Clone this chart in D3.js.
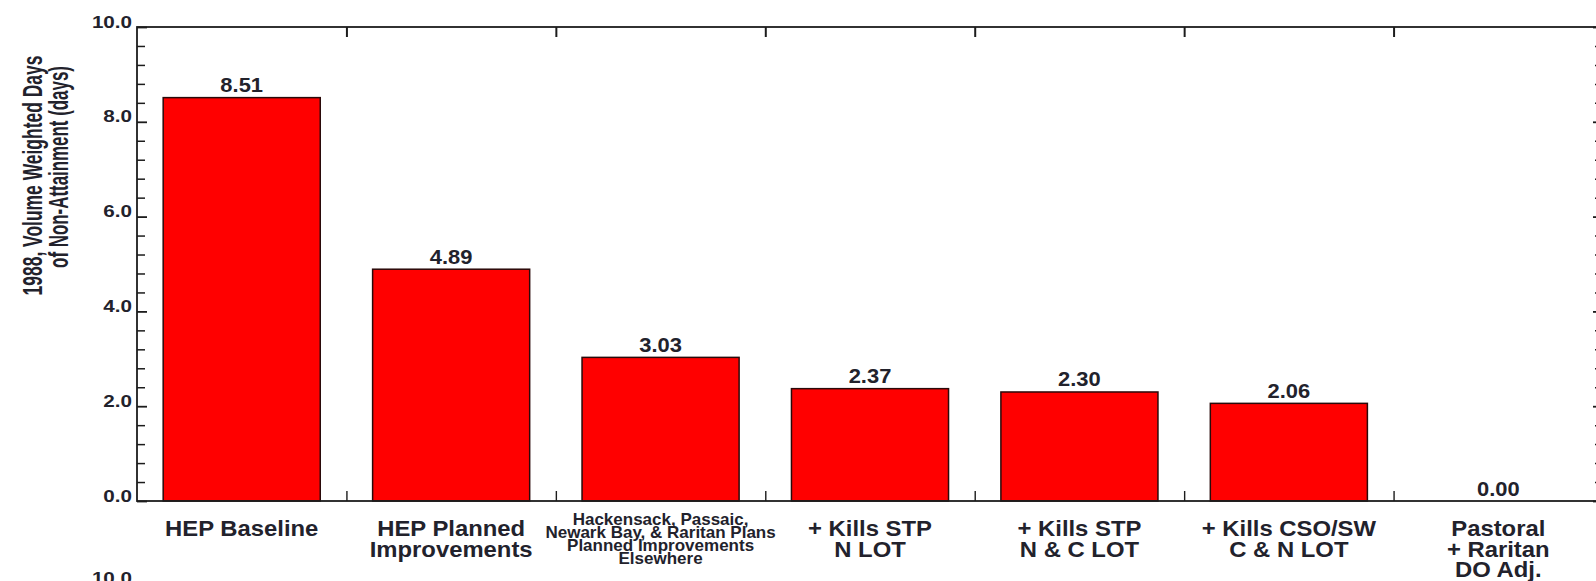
<!DOCTYPE html>
<html>
<head>
<meta charset="utf-8">
<script src="https://cdn.jsdelivr.net/npm/d3@7"></script>
<style>
  html, body { margin: 0; padding: 0; background: #ffffff; }
  svg { display: block; }
  text { font-family: "Liberation Sans", Arial, sans-serif; font-weight: bold; fill: #22222c; }
</style>
</head>
<body>
<svg id="chart" width="1596" height="581"></svg>
<script>
// ---------------- data ----------------
const categoryLines = [
  ["HEP Baseline"],
  ["HEP Planned", "Improvements"],
  ["Hackensack, Passaic,", "Newark Bay, & Raritan Plans", "Planned Improvements", "Elsewhere"],
  ["+ Kills STP", "N LOT"],
  ["+ Kills STP", "N & C LOT"],
  ["+ Kills CSO/SW", "C & N LOT"],
  ["Pastoral", "+ Raritan", "DO Adj."]
];
const smallLabelIndex = [2];
const values = [8.51, 4.89, 3.03, 2.37, 2.30, 2.06, 0.00];
const yMajorTicks = [0, 2, 4, 6, 8, 10];
const yMinorTicks = [0.4, 0.8, 1.2, 1.6, 2.4, 2.8, 3.2, 3.6, 4.4, 4.8, 5.2, 5.6,
                     6.4, 6.8, 7.2, 7.6, 8.4, 8.8, 9.2, 9.6];
const yTitleLines = ["1988, Volume Weighted Days", "of Non-Attainment (days)"];
const nextPanelTick = ["10.0"];

// ---------------- layout ----------------
const svg = d3.select("#chart");
const L = 137, R = 1603, T = 27, B = 501;
const ink = "#1c1c1c";

const x = d3.scaleBand()
  .domain(d3.range(values.length))
  .range([L, R])
  .paddingInner(0.25)
  .paddingOuter(0.125);
const xb = d3.scaleLinear().domain([0, values.length]).range([L, R]);
const y = d3.scaleLinear().domain([0, 10]).range([B, T]);

function scaledText(g, tx, ty, str, size, sx, anchor) {
  return g.append("g")
    .attr("transform", `translate(${tx},${ty}) scale(${sx},1)`)
    .append("text")
    .attr("text-anchor", anchor)
    .style("font-size", size + "px")
    .text(str);
}

// bars
svg.append("g").selectAll("rect")
  .data(values.map((v, i) => ({ v, i })).filter(d => d.v > 0))
  .join("rect")
  .attr("x", d => x(d.i))
  .attr("y", d => y(d.v))
  .attr("width", x.bandwidth())
  .attr("height", d => y(0) - y(d.v))
  .attr("fill", "#ff0000")
  .attr("stroke", "#2a0a0a")
  .attr("stroke-width", 1.5);

// frame
svg.append("rect")
  .attr("x", L).attr("y", T)
  .attr("width", R - L).attr("height", B - T)
  .attr("fill", "none").attr("stroke", ink).attr("stroke-width", 1.8);

function styleAxis(g, w) {
  g.select(".domain").remove();
  g.selectAll("line").attr("stroke", ink).attr("stroke-width", w);
  g.selectAll("text").remove();
}

// y ticks, left (pointing inward)
svg.append("g").attr("transform", `translate(${L},0)`)
  .call(d3.axisRight(y).tickValues(yMajorTicks).tickSize(10).tickFormat(""))
  .call(g => styleAxis(g, 1.8));
svg.append("g").attr("transform", `translate(${L},0)`)
  .call(d3.axisRight(y).tickValues(yMinorTicks).tickSize(8).tickFormat(""))
  .call(g => styleAxis(g, 1.5));
// y ticks, right
svg.append("g").attr("transform", `translate(${R},0)`)
  .call(d3.axisLeft(y).tickValues(yMajorTicks).tickSize(10).tickFormat(""))
  .call(g => styleAxis(g, 1.8));
svg.append("g").attr("transform", `translate(${R},0)`)
  .call(d3.axisLeft(y).tickValues(yMinorTicks).tickSize(8).tickFormat(""))
  .call(g => styleAxis(g, 1.5));

// category boundary ticks
const bounds = d3.range(1, values.length);
svg.append("g").attr("transform", `translate(0,${T})`)
  .call(d3.axisBottom(xb).tickValues(bounds).tickSize(10).tickFormat(""))
  .call(g => styleAxis(g, 2));
svg.append("g").attr("transform", `translate(0,${B})`)
  .call(d3.axisTop(xb).tickValues(bounds).tickSize(10).tickFormat(""))
  .call(g => styleAxis(g, 1.4));

// y tick labels
const fmt1 = d3.format(".1f");
const yl = svg.append("g");
yMajorTicks.forEach(t => scaledText(yl, 132, y(t) + 0.5, fmt1(t), 16.5, 1.25, "end"));
// top of the next panel's "10.0" label peeking at the bottom
nextPanelTick.forEach(s => scaledText(yl, 132, 584, s, 16.5, 1.25, "end"));

// value labels
const fmt2 = d3.format(".2f");
const vl = svg.append("g");
values.forEach((v, i) =>
  scaledText(vl, x(i) + x.bandwidth() / 2, y(v) - 5.5, fmt2(v), 20.5, 1.07, "middle"));

// category labels
const cl = svg.append("g");
categoryLines.forEach((lines, i) => {
  const cx = x(i) + x.bandwidth() / 2;
  const small = smallLabelIndex.includes(i);
  lines.forEach((s, j) => {
    if (small) scaledText(cl, cx, 525 + j * 13, s, 17, 1.0, "middle");
    else scaledText(cl, cx, 536 + j * 20.5, s, 22.5, 1.06, "middle");
  });
});

// y axis title (rotated, glyphs condensed along the baseline)
const tl = svg.append("g");
const titleAnchor = [[42, 175.5], [68, 167]];
const titleLength = [240, 202];
yTitleLines.forEach((s, j) => {
  const t = tl.append("text")
    .attr("text-anchor", "middle")
    .style("font-size", "27px")
    .text(s);
  const natural = t.node().getComputedTextLength();
  const sx = titleLength[j] / natural;
  t.attr("transform",
    `translate(${titleAnchor[j][0]},${titleAnchor[j][1]}) rotate(-90) scale(${sx},1)`);
});
</script>
</body>
</html>
